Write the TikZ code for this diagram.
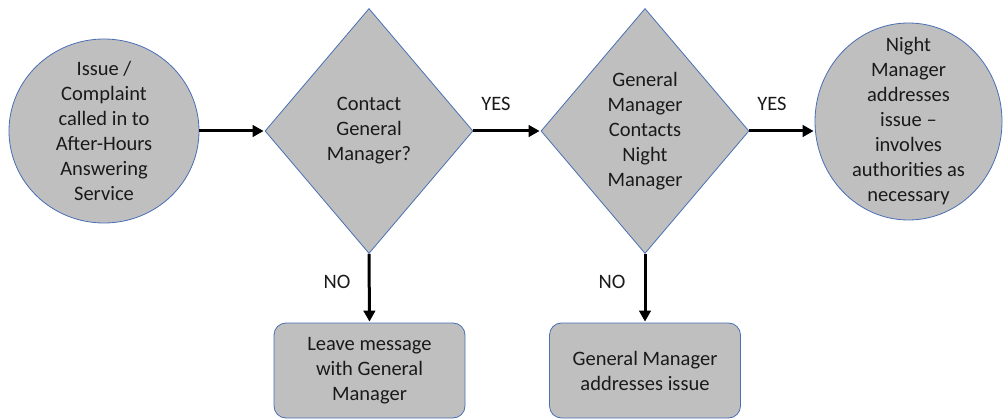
\documentclass[tikz,border=0pt]{standalone}
\usepackage{fontspec}
\setmainfont{Carlito}
\usetikzlibrary{shapes.geometric,arrows.meta}
\definecolor{shapefill}{HTML}{BFBFBF}
\definecolor{shapeline}{HTML}{4A6FB5}
\definecolor{txt}{HTML}{1A1A1A}
\begin{document}
\begin{tikzpicture}[x=1pt,y=-1pt,
  every node/.style={font=\fontsize{20.5}{25}\selectfont, text=txt},
  roundnode/.style={ellipse, fill=shapefill, draw=shapeline, line width=0.8pt, inner sep=0pt},
  decision/.style={diamond, aspect=0.85, fill=shapefill, draw=shapeline, line width=0.8pt,
    inner sep=0pt, minimum width=208pt, minimum height=245pt, align=center},
  outcome/.style={rectangle, rounded corners=12pt, fill=shapefill, draw=shapeline, line width=0.8pt,
    minimum width=191pt, minimum height=95pt, inner sep=0pt, align=center},
  inside/.style={align=center, inner sep=0pt},
  flow/.style={-{Triangle[length=11pt,width=11.5pt]}, line width=3pt, black, shorten >=1pt},
  answer/.style={inner sep=0pt}
]
\useasboundingbox (0,0) rectangle (1003,419);

\node[roundnode, minimum width=190pt, minimum height=184pt,
  label={[inside]center:Issue /\\Complaint\\called in to\\After-Hours\\Answering\\Service}] (start) at (104,131) {};

\node[decision] (d1) at (369,131) {Contact\\General\\Manager?};
\node[decision] (d2) at (645,131) {General\\Manager\\Contacts\\Night\\Manager};

\node[roundnode, minimum width=187pt, minimum height=197pt,
  label={[inside]center:Night\\Manager\\addresses\\issue --\\involves\\authorities as\\necessary}] (night) at (908.5,121.5) {};

\node[outcome] (b1) at (369.5,370.5) {Leave message\\with General\\Manager};
\node[outcome] (b2) at (645,370.5) {General Manager\\addresses issue};

\draw[flow] (start) -- (d1);
\draw[flow] (d1) -- (d2);
\draw[flow] (d2.east) -- (d2.east -| night.west);
\draw[flow] (d1.south) -- (b1.north);
\draw[flow] (d2.south) -- (b2.north);

\node[answer] (yes1) at (496,104) {YES};
\node[answer] (yes2) at (772,104) {YES};
\node[answer] (no1) at (337,282) {NO};
\node[answer] (no2) at (612,282) {NO};
\end{tikzpicture}
\end{document}
